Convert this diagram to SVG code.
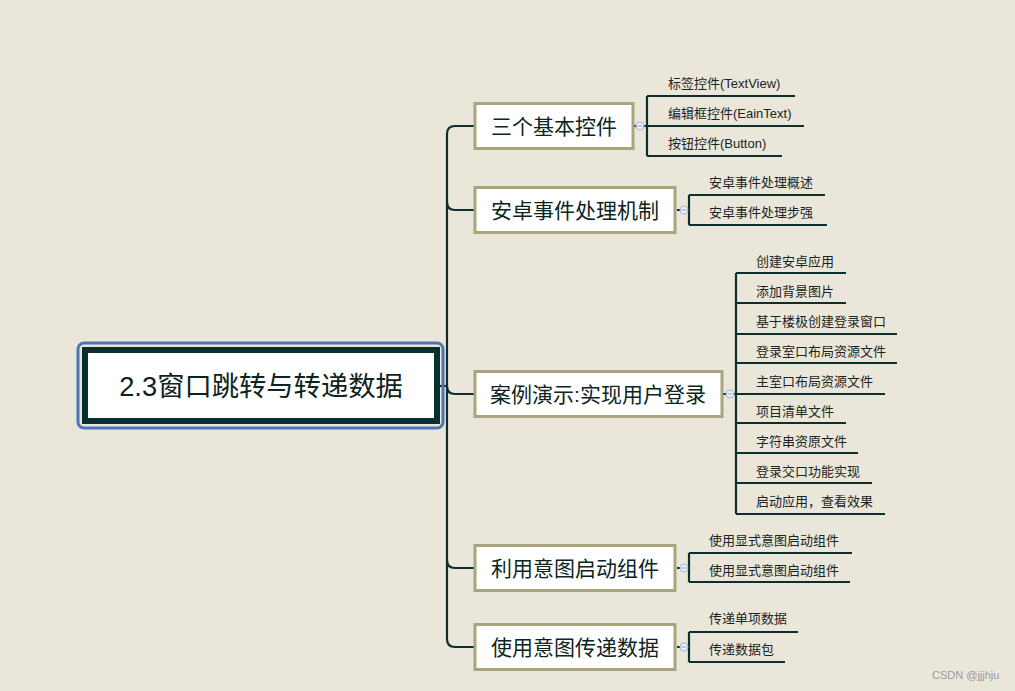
<svg xmlns="http://www.w3.org/2000/svg" width="1015" height="691" viewBox="0 0 1015 691">
<style>
.bg{fill:#eae7da}
.ln{fill:none;stroke:#0c2e2c;stroke-width:2.2}
.br{fill:#ffffff;stroke:#a9a47b;stroke-width:3}
.bt{font-family:"Liberation Sans","Noto Sans CJK SC",sans-serif;font-size:21px;fill:#0c2420;text-anchor:middle;dominant-baseline:central}
.lt{font-family:"Liberation Sans","Noto Sans CJK SC",sans-serif;font-size:13px;fill:#1a2422;dominant-baseline:central}
.cc{fill:#eef0f8;stroke:#a6b0d6;stroke-width:1}
.cm{stroke:#8f9ac8;stroke-width:1}
.st{stroke:#0c2e2c;stroke-width:2}
</style>
<defs>
<g id="col"><circle class="cc" r="4"/><line class="cm" x1="-2.5" y1="0" x2="2.5" y2="0"/></g>
</defs>
<rect class="bg" x="0" y="0" width="1015" height="691"/>
<g id="connectors">
<path class="ln" d="M447 134 L447 639"/>
<path class="ln" d="M440 386 L447 386"/>
<path class="ln" d="M447 134 Q447 126 455 126 L474 126"/>
<path class="ln" d="M447 202 Q447 210 455 210 L474 210"/>
<path class="ln" d="M447 386 Q447 394 455 394 L474 394"/>
<path class="ln" d="M447 560 Q447 568 455 568 L474 568"/>
<path class="ln" d="M447 639 Q447 647 455 647 L474 647"/>
<line class="st" x1="634" y1="126" x2="637" y2="126"/>
<line class="st" x1="677" y1="210" x2="680" y2="210"/>
<line class="st" x1="723" y1="394" x2="726" y2="394"/>
<line class="st" x1="677" y1="568" x2="680" y2="568"/>
<line class="st" x1="677" y1="647" x2="680" y2="647"/>
<path class="ln" d="M644 126 L647 126 M647 96 L647 156 M647 96 L795 96 M647 126 L804 126 M647 156 L782 156"/>
<path class="ln" d="M688 210 L689 210 M689 195 L689 225 M689 195 L825 195 M689 225 L827 225"/>
<path class="ln" d="M734 394 L736 394 M736 273 L736 514 M736 273 L846 273 M736 303 L846 303 M736 334 L897 334 M736 363 L897 363 M736 394 L885 394 M736 423 L846 423 M736 453 L858 453 M736 483 L872 483 M736 514 L885 514"/>
<path class="ln" d="M688 568 L689 568 M689 553 L689 582 M689 553 L852 553 M689 582 L850 582"/>
<path class="ln" d="M688 647 L689 647 M689 632 L689 662 M689 632 L798 632 M689 662 L785 662"/>
</g>
<g id="root">
<rect x="78" y="343" width="365" height="85" rx="6" fill="none" stroke="#4f72b6" stroke-width="3"/>
<rect x="85" y="350" width="352" height="71" fill="#ffffff" stroke="#07302e" stroke-width="6"/>
<text x="261" y="386" class="bt" style="font-size:27.3px">2.3窗口跳转与转递数据</text>
</g>
<g id="n1">
<rect class="br" x="475" y="103.5" width="158" height="45"/>
<text x="554" y="126" class="bt">三个基本控件</text>
<use href="#col" x="640" y="126"/>
</g>
<g id="n1a"><text x="668" y="83" class="lt">标签控件(TextView)</text></g>
<g id="n1b"><text x="668" y="113" class="lt">编辑框控件(EainText)</text></g>
<g id="n1c"><text x="668" y="143" class="lt">按钮控件(Button)</text></g>
<g id="n2">
<rect class="br" x="475" y="187.5" width="200" height="45"/>
<text x="575" y="210" class="bt">安卓事件处理机制</text>
<use href="#col" x="684" y="210"/>
</g>
<g id="n2a"><text x="709" y="182" class="lt">安卓事件处理概述</text></g>
<g id="n2b"><text x="709" y="212" class="lt">安卓事件处理步强</text></g>
<g id="n3">
<rect class="br" x="475" y="371.5" width="247" height="45"/>
<text x="598" y="394" class="bt">案例演示:实现用户登录</text>
<use href="#col" x="730" y="394"/>
</g>
<g id="n3a"><text x="756" y="261" class="lt">创建安卓应用</text></g>
<g id="n3b"><text x="756" y="291" class="lt">添加背景图片</text></g>
<g id="n3c"><text x="756" y="321" class="lt">基于楼极创建登录窗口</text></g>
<g id="n3d"><text x="756" y="351" class="lt">登录室口布局资源文件</text></g>
<g id="n3e"><text x="756" y="381" class="lt">主室口布局资源文件</text></g>
<g id="n3f"><text x="756" y="411" class="lt">项目清单文件</text></g>
<g id="n3g"><text x="756" y="441" class="lt">字符串资原文件</text></g>
<g id="n3h"><text x="756" y="471" class="lt">登录交口功能实现</text></g>
<g id="n3i"><text x="756" y="501" class="lt">启动应用，查看效果</text></g>
<g id="n4">
<rect class="br" x="475" y="545.5" width="200" height="45"/>
<text x="575" y="568" class="bt">利用意图启动组件</text>
<use href="#col" x="684" y="568"/>
</g>
<g id="n4a"><text x="709" y="540" class="lt">使用显式意图启动组件</text></g>
<g id="n4b"><text x="709" y="570" class="lt">使用显式意图启动组件</text></g>
<g id="n5">
<rect class="br" x="475" y="624.5" width="200" height="45"/>
<text x="575" y="647" class="bt">使用意图传递数据</text>
<use href="#col" x="684" y="647"/>
</g>
<g id="n5a"><text x="709" y="618" class="lt">传递单项数据</text></g>
<g id="n5b"><text x="709" y="649" class="lt">传递数据包</text></g>
<text x="932" y="675" style="font-family:'Liberation Sans',sans-serif;font-size:11px;fill:#9a9a9a" dominant-baseline="central">CSDN @jjjhju</text>
</svg>
